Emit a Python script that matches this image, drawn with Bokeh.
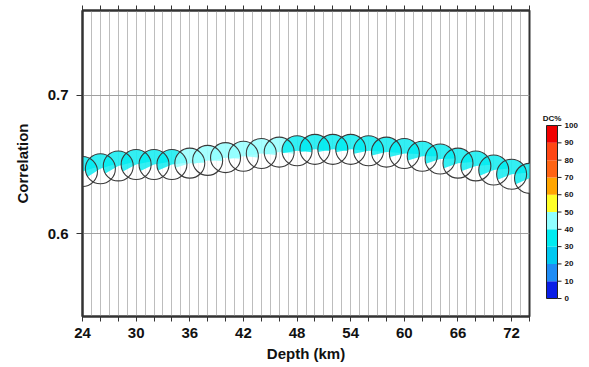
from bokeh.plotting import figure
from bokeh.layouts import row
from bokeh.models import FixedTicker, LinearAxis, Range1d, ColumnDataSource
from bokeh.core.properties import value
from bokeh.embed import file_html
from bokeh.resources import INLINE
import math

# ---- data ----
depth = [24, 26, 28, 30, 32, 34, 36, 38, 40, 42, 44, 46, 48, 50,
         52, 54, 56, 58, 60, 62, 64, 66, 68, 70, 72, 74]
corr = [0.645, 0.647, 0.649, 0.650, 0.650, 0.650, 0.651, 0.653, 0.655,
        0.656, 0.658, 0.659, 0.660, 0.661, 0.661, 0.661, 0.660, 0.659,
        0.658, 0.656, 0.654, 0.651, 0.649, 0.646, 0.643, 0.640]
dc = [35, 35, 35, 35, 35, 35, 45, 45, 45, 45, 45, 45, 38, 35,
      35, 35, 35, 35, 35, 35, 35, 35, 35, 35, 35, 35]
tilt = [25, 25, 22, 20, 18, 15, 10, 6, 4, 3, 2, 2, 2, 2,
        2, 3, 4, 5, 6, 8, 10, 12, 12, 14, 14, 15]
dc_ticks = [0, 10, 20, 30, 40, 50, 60, 70, 80, 90, 100]
x_label_ticks = [24, 30, 36, 42, 48, 54, 60, 66, 72]
y_ticks = [0.6, 0.7]

palette = ["#0a1ee6", "#1e8cf5", "#00c8f0", "#00ebf0", "#90ffff",
           "#ffff28", "#ffa500", "#ff6414", "#ff4614", "#f00000"]

colors = [palette[min(int(v // 10), 9)] for v in dc]
start = [math.radians(t - 8) for t in tilt]
end = [math.radians(t + 188) for t in tilt]
src = ColumnDataSource(dict(x=depth, y=corr, c=colors, s=start, e=end))

FONT = "Liberation Sans"

p = figure(frame_width=447, frame_height=306, output_backend="svg",
           toolbar_location=None, x_range=Range1d(24, 74),
           y_range=Range1d(0.54, 0.7615),
           min_border_left=82, min_border_top=10, min_border_bottom=51,
           min_border_right=2)
p.background_fill_color = "white"
p.border_fill_color = "white"
p.outline_line_color = "#333333"
p.outline_line_width = 2

# grid
p.xgrid.ticker = FixedTicker(ticks=list(range(24, 75)))
p.xgrid.grid_line_color = "#bdbdbd"
p.xgrid.grid_line_width = 1
p.ygrid.ticker = FixedTicker(ticks=y_ticks)
p.ygrid.grid_line_color = "#a0a0a0"

# x axis
even = list(range(24, 75, 2))
p.xaxis.ticker = FixedTicker(ticks=even)
p.xaxis.major_label_overrides = {t: (str(t) if t in x_label_ticks else "") for t in even}
p.xaxis.minor_tick_line_color = None
p.xaxis.major_tick_in = 0
p.xaxis.major_tick_out = 5
p.xaxis.axis_label = "Depth (km)"
p.yaxis.axis_label = "Correlation"
p.yaxis.ticker = FixedTicker(ticks=y_ticks)
p.yaxis.major_label_overrides = {0.6: "0.6", 0.7: "0.7"}
p.yaxis.minor_tick_line_color = None
p.yaxis.major_tick_in = 0
p.yaxis.major_tick_out = 6
for ax in (p.xaxis[0], p.yaxis[0]):
    ax.axis_line_color = "#333333"
    ax.axis_line_width = 2
    ax.major_tick_line_color = "#333333"
    ax.major_label_text_font = FONT
    ax.major_label_text_font_style = "bold"
    ax.major_label_text_font_size = "15px"
    ax.major_label_text_color = "#111111"
    ax.axis_label_text_font = FONT
    ax.axis_label_text_font_style = "bold"
    ax.axis_label_text_font_size = "15px"
    ax.axis_label_text_color = "#111111"
p.xaxis.major_label_standoff = 6
p.xaxis.axis_label_standoff = 4
p.yaxis.major_label_standoff = 8
p.yaxis.axis_label_standoff = 14

top = LinearAxis(ticker=FixedTicker(ticks=even), major_label_text_font_size="0px",
                 major_tick_in=0, major_tick_out=5, minor_tick_line_color=None,
                 axis_line_color="#333333", axis_line_width=2,
                 major_tick_line_color="#333333")
top.major_label_overrides = {t: "" for t in even}
p.add_layout(top, "above")

# focal mechanism balls
p.scatter("x", "y", source=src, size=30, fill_color="white", fill_alpha=0.5,
          line_color=None)
p.wedge("x", "y", radius=15, radius_units="screen", start_angle="s",
        end_angle="e", source=src, fill_color="c", fill_alpha=0.8,
        line_color=None)
p.scatter("x", "y", source=src, size=30, fill_color=None,
          line_color="#3a3a3a", line_width=1.1)

# ---- colour scale panel (DC%) ----
# its frame lines up with the main frame; y data units = DC%, 1.73 px per percent
p2 = figure(width=58, height=367, output_backend="svg", toolbar_location=None,
            x_range=Range1d(0, 58), y_range=Range1d(-10.4, 166.5),
            x_axis_type=None, y_axis_type=None,
            min_border=0, outline_line_color=None)
p2.grid.visible = False
p2.background_fill_color = "white"
p2.border_fill_color = "white"
p2.quad(left=15, right=26, bottom=dc_ticks[:-1], top=dc_ticks[1:],
        fill_color=palette, line_color=None)
p2.quad(left=15, right=26, bottom=dc_ticks[0], top=dc_ticks[-1],
        fill_color=None, line_color="#222222", line_width=1)
p2.segment(x0=26, x1=30, y0=dc_ticks, y1=dc_ticks, line_color="#222222",
           line_width=1)
p2.text(x=33, y=dc_ticks, text=[str(t) for t in dc_ticks],
        text_font=value(FONT), text_font_size="8px", text_font_style="bold",
        text_align="left", text_baseline="middle", text_color="#111111")
p2.text(x=[20.5], y=[dc_ticks[-1] + 1.5], text=["DC%"],
        text_font=value(FONT), text_font_size="8px", text_font_style="bold",
        text_align="center", text_baseline="bottom", text_color="#111111")

open("out.html", "w").write(file_html(row(p, p2), INLINE))
